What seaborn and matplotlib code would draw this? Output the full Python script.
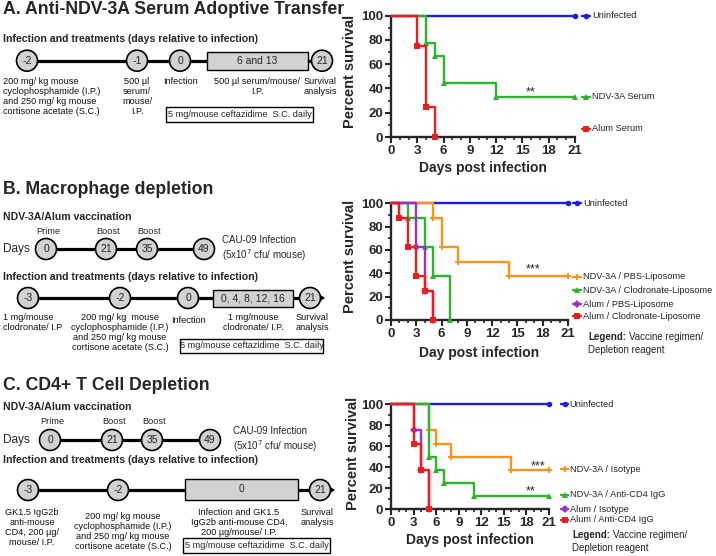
"""
Survival after serum transfer / macrophage / CD4+ T cell depletion, with protocol diagrams.
"""

import matplotlib
matplotlib.use("Agg")
import matplotlib.pyplot as plt
from matplotlib.patches import Circle, Rectangle, Polygon
from matplotlib.ticker import MultipleLocator
import seaborn as sns

# ---- data (days, percent survival) ----
uninf_days = [0, 21]
uninf_surv = [100, 100]

# A. serum transfer
a_ndv_days = [0, 4, 5, 6, 12, 21]
a_ndv_surv = [100, 77.8, 66.7, 44.4, 33.3, 33.3]
a_alum_days = [0, 3, 4, 5]
a_alum_surv = [100, 75, 25, 0]

# B. macrophage depletion
b_ndv_pbs_days = [0, 5, 6, 8, 14, 21]
b_ndv_pbs_surv = [100, 87.5, 62.5, 50, 37.5, 37.5]
b_ndv_clod_days = [0, 2, 4, 5, 7]
b_ndv_clod_surv = [100, 87.5, 62.5, 37.5, 0]
b_alum_pbs_days = [0, 3, 4, 5]
b_alum_pbs_surv = [100, 62.5, 25, 0]
b_alum_clod_days = [0, 1, 2, 3, 4, 5]
b_alum_clod_surv = [100, 87.5, 62.5, 37.5, 25, 0]

# C. CD4+ T cell depletion
c_ndv_iso_days = [0, 5, 6, 8, 16, 21]
c_ndv_iso_surv = [100, 75, 62.5, 50, 37.5, 37.5]
c_ndv_cd4_days = [0, 5, 6, 7, 11, 21]
c_ndv_cd4_surv = [100, 50, 37.5, 25, 12.5, 12.5]
c_alum_iso_days = [0, 3, 4, 5]
c_alum_iso_surv = [100, 75, 37.5, 0]
c_alum_cd4_days = [0, 3, 4, 5]
c_alum_cd4_surv = [100, 62.5, 37.5, 0]

BLUE = "#1c1ce8"
GREEN = "#2cb52c"
RED = "#ee1c1c"
ORANGE = "#f7941d"
PURPLE = "#9b30d0"
GRAY = "#d2d2d2"

W, H = 716, 556

sns.set_theme(style="ticks")
plt.rcParams["font.family"] = ["Liberation Sans", "DejaVu Sans"]

FS_BODY = 6.6
FS_HEAD = 7.6
FS_TITLE = 12.7
FS_LEG = 6.7


# ---- diagram helpers (pixel coordinates on a full-figure axes) ----
def node(bg, x, y, label, r=10.5):
    bg.add_patch(Circle((x, y), r, fc=GRAY, ec="black", lw=1.2, zorder=3))
    bg.text(x, y, label, ha="center", va="center", fontsize=7.5, zorder=4)


def bar(bg, x0, x1, y):
    bg.plot([x0, x1], [y, y], color="black", lw=2.3, zorder=2, solid_capstyle="butt")


def box(bg, x0, x1, y0, y1, label, fc=GRAY, fs=7.5):
    bg.add_patch(Rectangle((x0, y0), x1 - x0, y1 - y0, fc=fc, ec="black", lw=1.0, zorder=3))
    bg.text((x0 + x1) / 2, (y0 + y1) / 2, label, ha="center", va="center", fontsize=fs, zorder=4)


def arrow(bg, x, y):
    bg.add_patch(Polygon([(x, y - 2.5), (x + 4, y), (x, y + 2.5)], closed=True,
                         fc="black", ec="black", lw=0.5, zorder=3))


def note(bg, x, y, s, ha="center", va="top"):
    bg.text(x, y, s, ha=ha, va=va, fontsize=FS_BODY, linespacing=1.15, color="#111111")


def head(bg, x, y, s, size=FS_HEAD):
    bg.text(x, y, s, ha="left", va="center", fontsize=size, fontweight="bold")


def vaccination_row(bg, y_lab, y, xs, cau_x):
    head(bg, 3, y_lab - 15, "NDV-3A/Alum vaccination")
    for x, s in zip(xs[:3], ["Prime", "Boost", "Boost"]):
        bg.text(x + 2, y_lab, s, ha="center", va="center", fontsize=FS_BODY)
    bg.text(3, y, "Days", ha="left", va="center", fontsize=8.5)
    bar(bg, xs[0], xs[-1], y)
    for x, s in zip(xs, ["0", "21", "35", "49"]):
        node(bg, x, y, s)
    bg.text(cau_x, y, "CAU-09 Infection\n(5x10$^7$ cfu/ mouse)", ha="left", va="center",
            fontsize=7, linespacing=1.2)


# ---- survival helpers ----
def px_axes(fig, x0, x1, y_top, y_bot):
    return fig.add_axes([x0 / W, 1 - y_bot / H, (x1 - x0) / W, (y_bot - y_top) / H])


def survival(ax, curves, legend_x, legend_ys):
    for (days, surv, color, marker, label), ly in zip(curves, legend_ys):
        sns.lineplot(x=days, y=surv, ax=ax, color=color, lw=1.7, drawstyle="steps-post",
                     estimator=None, marker=marker, ms=4, mew=0, markevery=list(range(1, len(days))),
                     clip_on=False, zorder=3)
        # GraphPad-like legend next to the plot
        ax.plot([legend_x - 0.45, legend_x + 0.45], [ly, ly], color=color, lw=1.7, clip_on=False)
        ax.plot([legend_x], [ly], color=color, marker=marker, ms=4, mew=0, clip_on=False)
        ax.text(legend_x + 0.65, ly, label, ha="left", va="center", fontsize=FS_LEG, clip_on=False)
    ax.set_xlim(0, 21)
    ax.set_ylim(0, 100)
    ax.xaxis.set_major_locator(MultipleLocator(3))
    ax.xaxis.set_minor_locator(MultipleLocator(1))
    ax.yaxis.set_major_locator(MultipleLocator(20))
    ax.yaxis.set_minor_locator(MultipleLocator(10))
    ax.tick_params(which="major", direction="out", length=4, width=1.5, pad=1.5, labelsize=9.5)
    ax.tick_params(which="minor", direction="out", length=2.5, width=1.2)
    for lab in ax.get_xticklabels() + ax.get_yticklabels():
        lab.set_fontweight("bold")
    sns.despine(ax=ax)
    for sp in ("left", "bottom"):
        ax.spines[sp].set_linewidth(1.7)
    ax.set_xlabel("")
    ax.set_ylabel("")
    ax.patch.set_alpha(0)


def main():
    fig = plt.figure(figsize=(W / 100, H / 100), dpi=100)
    bg = fig.add_axes([0, 0, 1, 1])
    bg.set_xlim(0, W)
    bg.set_ylim(H, 0)
    bg.axis("off")

    # ===== A =====
    head(bg, 3, 10, "A. Anti-NDV-3A Serum Adoptive Transfer", FS_TITLE)
    head(bg, 3, 39, "Infection and treatments (days relative to infection)")
    bar(bg, 27, 322, 60.7)
    for x, s in [(27, "-2"), (137, "-1"), (180, "0"), (322, "21")]:
        node(bg, x, 60.7, s)
    box(bg, 207, 308, 51.7, 70, "6 and 13")
    note(bg, 3, 77, "200 mg/ kg mouse\ncyclophosphamide (I.P.)\nand 250 mg/ kg mouse\ncortisone acetate (S.C.)", ha="left")
    note(bg, 137, 77, "500 \u00b5l\nserum/\nmouse/\nI.P.")
    note(bg, 180, 77, "Infection")
    note(bg, 257, 77, "500 \u00b5l serum/mouse/\nI.P.")
    note(bg, 320, 77, "Survival\nanalysis")
    box(bg, 166, 313, 107, 122, "5 mg/mouse ceftazidime  S.C. daily", fc="white", fs=FS_BODY)

    # ===== B =====
    head(bg, 3, 190, "B. Macrophage depletion", FS_TITLE)
    vaccination_row(bg, 232, 249, [46, 106, 147, 204], 222)
    head(bg, 3, 277, "Infection and treatments (days relative to infection)")
    bar(bg, 28, 310, 298)
    for x, s in [(28, "-3"), (120, "-2"), (188, "0"), (310, "21")]:
        node(bg, x, 298, s)
    box(bg, 213, 293, 290, 307, "0, 4, 8, 12, 16")
    arrow(bg, 320.5, 298)
    note(bg, 3, 313, "1 mg/mouse\nclodronate/ I.P", ha="left")
    note(bg, 120, 313, "200 mg/ kg  mouse\ncyclophosphamide (I.P.)\nand 250 mg/ kg mouse\ncortisone acetate (S.C.)")
    note(bg, 188, 316, "Infection")
    note(bg, 253, 313, "1 mg/mouse\nclodronate/ I.P.")
    note(bg, 312, 313, "Survival\nanalysis")
    box(bg, 180, 323, 339, 353, "5 mg/mouse ceftazidime  S.C. daily", fc="white", fs=FS_BODY)

    # ===== C =====
    head(bg, 3, 386, "C. CD4+ T Cell Depletion", FS_TITLE)
    vaccination_row(bg, 422, 440, [50, 112, 152, 210], 233)
    head(bg, 3, 460, "Infection and treatments (days relative to infection)")
    bar(bg, 28, 320, 490)
    for x, s in [(28, "-3"), (118, "-2"), (320, "21")]:
        node(bg, x, 490, s)
    box(bg, 185, 298, 479, 500, "0")
    arrow(bg, 330.5, 490)
    note(bg, 32, 508, "GK1.5 IgG2b\nanti-mouse\nCD4, 200 \u00b5g/\nmouse/ I.P.")
    note(bg, 123, 512, "200 mg/ kg mouse\ncyclophosphamide (I.P.)\nand 250 mg/ kg mouse\ncortisone acetate (S.C.)")
    note(bg, 239, 508, "Infection and GK1.5\nIgG2b anti-mouse CD4,\n200 \u00b5g/mouse/ I.P.")
    note(bg, 317, 508, "Survival\nanalysis")
    box(bg, 183, 330, 538, 553, "5 mg/mouse ceftazidime  S.C. daily", fc="white", fs=FS_BODY)

    # ===== survival plots =====
    ax_a = px_axes(fig, 391, 575, 15.7, 137)
    survival(ax_a, [
        (uninf_days, uninf_surv, BLUE, "o", "Uninfected"),
        (a_ndv_days, a_ndv_surv, GREEN, "^", "NDV-3A Serum"),
        (a_alum_days, a_alum_surv, RED, "s", "Alum Serum"),
    ], 22.3, [100, 33, 6.6])
    ax_a.text(15.9, 37, "**", ha="center", va="center", fontsize=9)

    ax_b = px_axes(fig, 391, 568, 203.3, 320)
    survival(ax_b, [
        (uninf_days, uninf_surv, BLUE, "o", "Uninfected"),
        (b_ndv_pbs_days, b_ndv_pbs_surv, ORANGE, "P", "NDV-3A / PBS-Liposome"),
        (b_ndv_clod_days, b_ndv_clod_surv, GREEN, "^", "NDV-3A / Clodronate-Liposome"),
        (b_alum_pbs_days, b_alum_pbs_surv, PURPLE, "D", "Alum / PBS-Liposome"),
        (b_alum_clod_days, b_alum_clod_surv, RED, "s", "Alum / Clodronate-Liposome"),
    ], 22.1, [100, 37, 25.7, 13.7, 3.4])
    ax_b.text(16.8, 43, "***", ha="center", va="center", fontsize=9)

    ax_c = px_axes(fig, 391, 549, 404.3, 509)
    survival(ax_c, [
        (uninf_days, uninf_surv, BLUE, "o", "Uninfected"),
        (c_ndv_iso_days, c_ndv_iso_surv, ORANGE, "P", "NDV-3A / Isotype"),
        (c_ndv_cd4_days, c_ndv_cd4_surv, GREEN, "^", "NDV-3A / Anti-CD4 IgG"),
        (c_alum_iso_days, c_alum_iso_surv, PURPLE, "D", "Alum / Isotype"),
        (c_alum_cd4_days, c_alum_cd4_surv, RED, "s", "Alum / Anti-CD4 IgG"),
    ], 23.1, [100, 38, 13.4, 0, -10.5])
    ax_c.text(19.5, 41, "***", ha="center", va="center", fontsize=9)
    ax_c.text(18.5, 17, "**", ha="center", va="center", fontsize=9)

    # axis titles and legend notes
    for x, yc in [(350, 71), (350, 256), (353, 453)]:
        bg.text(x, yc, "Percent survival", rotation=90, ha="center", va="center",
                fontsize=10.5, fontweight="bold")
    for x, y, s in [(483, 168, "Days post infection"), (479, 353, "Day post infection"),
                    (470, 540, "Days post infection")]:
        bg.text(x, y, s, ha="center", va="center", fontsize=10, fontweight="bold")

    renderer = fig.canvas.get_renderer()
    for x, y in [(588, 337), (572, 535)]:
        t = bg.text(x, y, "Legend:", ha="left", va="center", fontsize=7, fontweight="bold")
        width = t.get_window_extent(renderer).width
        bg.text(x + width + 3, y, "Vaccine regimen/", ha="left", va="center", fontsize=7)
        bg.text(x, y + 13, "Depletion reagent", ha="left", va="center", fontsize=7)

    fig.savefig("out.png", dpi=100)


if __name__ == "__main__":
    main()
